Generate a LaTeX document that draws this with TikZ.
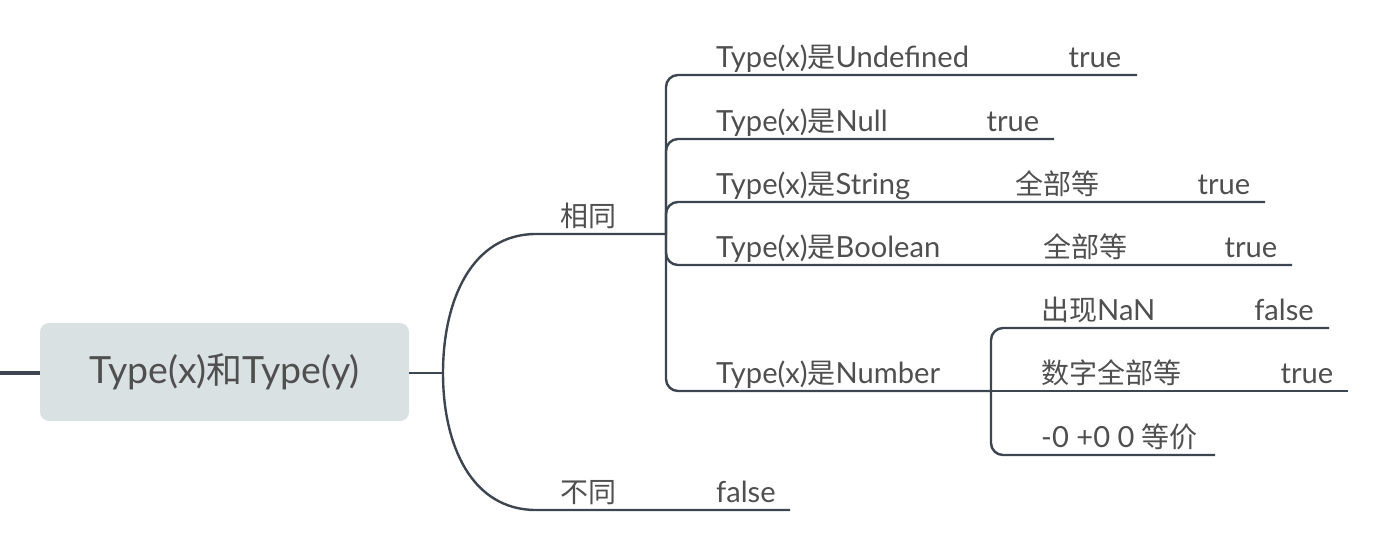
\documentclass[tikz,border=0pt]{standalone}
\usepackage{fontspec}
\setmainfont{Lato}[Scale=1.04]
\newfontfamily\cjk{Noto Sans CJK SC}
\definecolor{lc}{HTML}{3D4550}
\definecolor{tc}{HTML}{4F4F4F}
\definecolor{rootfill}{HTML}{DAE1E3}
\tikzset{
  conn/.style={draw=lc, line width=2.4pt, rounded corners=12pt},
  lbl/.style={anchor=base west, text=tc, inner sep=0pt, font=\fontsize{28}{34}\selectfont},
  val/.style={anchor=base, text=tc, inner sep=0pt, font=\fontsize{28}{34}\selectfont},
  rootbox/.style={fill=rootfill, rounded corners=9pt, minimum width=369pt, minimum height=98pt, text=tc, inner sep=0pt, font=\fontsize{36}{42}\selectfont}
}
\begin{document}
\begin{tikzpicture}[x=1pt,y=-1pt]
\useasboundingbox (0,0) rectangle (1379,554);
% root
\node[rootbox] (root) at (224.5,372) {Type(x){\cjk 和}Type(y)};
\coordinate (lstub) at (0,373);
\draw[draw=lc, line width=4pt] (lstub) -- (root.west |- lstub);
\coordinate (rj) at (443,373);
\draw[conn] (root.east |- rj) -- (rj);
% main branches
\coordinate (s1) at (548,234);
\coordinate (s2) at (666,234);
\coordinate (d1) at (548,510);
\coordinate (d2) at (790,510);
\draw[conn] (rj) .. controls (443,300) and (472,234) .. (s1) -- (s2);
\draw[conn] (rj) .. controls (443,446) and (472,510) .. (d1) -- (d2);
\node[lbl] (same) at (560,226) {\cjk 相同};
\node[lbl] (diff) at (560,502) {\cjk 不同};
\node[lbl] (difff) at (716,502) {false};
% children of same
\coordinate (uE) at (1137,75);
\coordinate (nE) at (1054,139);
\coordinate (sE) at (1265,202);
\coordinate (bE) at (1292,265);
\coordinate (numJ) at (991,391);
\draw[conn] (s2) |- (uE);
\draw[conn] (s2) |- (nE);
\draw[conn] (s2) |- (sE);
\draw[conn] (s2) |- (bE);
\draw[conn] (s2) |- (numJ);
\node[lbl] (tu) at (716,67) {Type(x){\cjk 是}Undefined};
\node[val] (tuv) at (1095,67) {true};
\node[lbl] (tn) at (716,131) {Type(x){\cjk 是}Null};
\node[val] (tnv) at (1013,131) {true};
\node[lbl] (ts) at (716,194) {Type(x){\cjk 是}String};
\node[val] (tsa) at (1057,194) {\cjk 全部等};
\node[val] (tsv) at (1224,194) {true};
\node[lbl] (tb) at (716,257) {Type(x){\cjk 是}Boolean};
\node[val] (tba) at (1085,257) {\cjk 全部等};
\node[val] (tbv) at (1251,257) {true};
\node[lbl] (tnum) at (716,383) {Type(x){\cjk 是}Number};
% number sub-branches
\coordinate (nanE) at (1329,328);
\coordinate (eqE) at (1348,391);
\coordinate (zE) at (1215,455);
\draw[conn] (numJ) |- (nanE);
\draw[conn] (numJ) -- (eqE);
\draw[conn] (numJ) |- (zE);
\node[lbl] (nan) at (1041,320) {{\cjk 出现}NaN};
\node[val] (nanv) at (1284,320) {false};
\node[lbl] (eq) at (1041,383) {\cjk 数字全部等};
\node[val] (eqv) at (1307,383) {true};
\node[lbl] (zero) at (1041,447) {-0 +0 0 {\cjk 等价}};
\end{tikzpicture}
\end{document}
